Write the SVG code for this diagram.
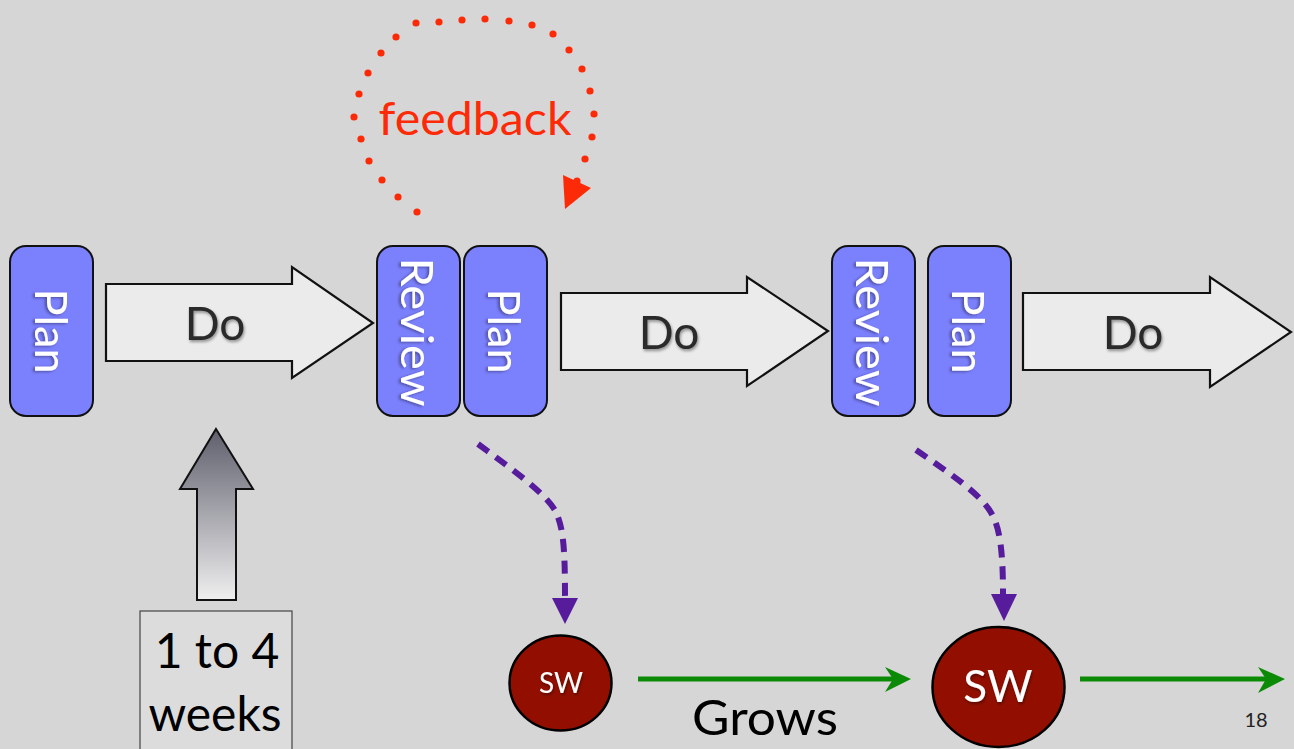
<svg xmlns="http://www.w3.org/2000/svg" width="1294" height="749" viewBox="0 0 1294 749">
<style>
.bg{fill:#d6d6d6}
.box{fill:#7b80fd;stroke:#111;stroke-width:2}
.vt{font-family:Lato,"Open Sans","DejaVu Sans",sans-serif;font-size:45px;fill:#fff;text-anchor:middle}
.doar{fill:#ebebeb;stroke:#111;stroke-width:2.2;stroke-linejoin:miter}
.dot{font-family:Lato,"Open Sans","DejaVu Sans",sans-serif;font-size:46px;fill:#2b2b2b;text-anchor:middle}
.fb{fill:#fd2a08}
.dash{fill:none;stroke:#561c9c;stroke-width:6;stroke-dasharray:13 9}
.ph{fill:#561c9c}
.grn{stroke:#0b8b05;stroke-width:5;fill:none}
.gh{fill:#0b8b05}
.sw{fill:#920f00;stroke:#000;stroke-width:2.5}
.swt{font-family:Lato,"Open Sans","DejaVu Sans",sans-serif;fill:#fff;text-anchor:middle}
.blk{font-family:Lato,"Open Sans","DejaVu Sans",sans-serif;fill:#000;text-anchor:middle}
</style>
<defs>
<linearGradient id="upg" x1="0" y1="0" x2="0" y2="1">
<stop offset="0" stop-color="#5f5f6d"/>
<stop offset="1" stop-color="#efefef"/>
</linearGradient>
<filter id="sh" x="-20%" y="-20%" width="140%" height="140%">
<feGaussianBlur in="SourceAlpha" stdDeviation="1.5"/>
<feOffset dx="1" dy="2" result="b"/>
<feComponentTransfer><feFuncA type="linear" slope="0.4"/></feComponentTransfer>
<feMerge><feMergeNode/><feMergeNode in="SourceGraphic"/></feMerge>
</filter>
</defs>
<rect class="bg" x="0" y="0" width="1294" height="749"/>

<g id="plan1">
<rect class="box" x="10" y="246" width="83" height="170" rx="16"/>
<text class="vt" filter="url(#sh)" transform="translate(35,331) rotate(90)">Plan</text>
</g>
<g id="do1">
<path class="doar" d="M106,284 H292 V267 L373,323 L292,378 V361 H106 Z"/>
<text class="dot" filter="url(#sh)" x="215" y="340">Do</text>
</g>
<g id="review1">
<rect class="box" x="377" y="246" width="83" height="170" rx="16"/>
<text class="vt" filter="url(#sh)" transform="translate(401,332) rotate(90)" textLength="149" lengthAdjust="spacingAndGlyphs">Review</text>
</g>
<g id="plan2">
<rect class="box" x="464" y="246" width="83" height="170" rx="16"/>
<text class="vt" filter="url(#sh)" transform="translate(488,331) rotate(90)">Plan</text>
</g>
<g id="do2">
<path class="doar" d="M561,293 H747 V277 L828,331 L747,386 V370 H561 Z"/>
<text class="dot" filter="url(#sh)" x="669" y="349">Do</text>
</g>
<g id="review2">
<rect class="box" x="832" y="246" width="83" height="170" rx="16"/>
<text class="vt" filter="url(#sh)" transform="translate(856,332) rotate(90)" textLength="149" lengthAdjust="spacingAndGlyphs">Review</text>
</g>
<g id="plan3">
<rect class="box" x="928" y="246" width="83" height="170" rx="16"/>
<text class="vt" filter="url(#sh)" transform="translate(952,331) rotate(90)">Plan</text>
</g>
<g id="do3">
<path class="doar" d="M1023,293 H1210 V277 L1291,332 L1210,387 V370 H1023 Z"/>
<text class="dot" filter="url(#sh)" x="1133" y="349">Do</text>
</g>

<g id="feedback">
<g class="fb">
<circle cx="417" cy="212" r="3.6"/><circle cx="398" cy="197" r="3.6"/><circle cx="382" cy="180" r="3.6"/>
<circle cx="369" cy="161" r="3.6"/><circle cx="361" cy="139" r="3.6"/><circle cx="354" cy="117" r="3.6"/>
<circle cx="359" cy="94" r="3.6"/><circle cx="368" cy="73" r="3.6"/><circle cx="381" cy="53" r="3.6"/>
<circle cx="396" cy="37" r="3.6"/><circle cx="416" cy="23" r="3.6"/><circle cx="439" cy="22" r="3.6"/>
<circle cx="462" cy="20" r="3.6"/><circle cx="485" cy="19" r="3.6"/><circle cx="509" cy="21" r="3.6"/>
<circle cx="532" cy="25" r="3.6"/><circle cx="553" cy="34" r="3.6"/><circle cx="569" cy="50" r="3.6"/>
<circle cx="582" cy="69" r="3.6"/><circle cx="590" cy="91" r="3.6"/><circle cx="594" cy="114" r="3.6"/>
<circle cx="592" cy="137" r="3.6"/><circle cx="585" cy="159" r="3.6"/><circle cx="577" cy="181" r="3.6"/>
<path d="M563,175 L591,188 L565,209 Z"/>
</g>
<text x="475" y="135" font-family="Lato,'Open Sans','DejaVu Sans',sans-serif" font-size="47" fill="#fd2a08" text-anchor="middle" textLength="193" lengthAdjust="spacingAndGlyphs">feedback</text>
</g>

<g id="duration">
<path d="M216,429 L253,489 H236 V600 H197 V489 H180 Z" fill="url(#upg)" stroke="#111" stroke-width="2"/>
<rect x="140" y="611" width="152" height="150" fill="#dcdcdc" stroke="#444" stroke-width="1.2"/>
<text class="blk" x="217" y="668" font-size="48">1 to 4</text>
<text class="blk" x="215" y="731" font-size="48">weeks</text>
</g>

<g id="sw1">
<ellipse class="sw" cx="560.5" cy="683" rx="51" ry="47.5"/>
<text class="swt" filter="url(#sh)" x="561" y="693" font-size="28">SW</text>
</g>
<g id="sw2">
<ellipse class="sw" cx="998.5" cy="687" rx="66" ry="60"/>
<text class="swt" filter="url(#sh)" x="998" y="702" font-size="44">SW</text>
</g>

<g id="connectors">
<path class="dash" d="M478,444 C510,468 545,492 556,512 C563,528 565,545 565,598"/>
<path class="ph" d="M552,598 H578 L565,624 Z"/>
<path class="dash" d="M916,450 C945,470 975,490 988,508 C998,522 1003,540 1003,594"/>
<path class="ph" d="M991,594 H1017 L1004,621 Z"/>
<path class="grn" d="M638,679 H897"/>
<path class="gh" d="M911,679 L885,667 L893,679 L885,692 Z"/>
<path class="grn" d="M1080,679 H1272"/>
<path class="gh" d="M1285,679 L1258,667 L1266,679 L1258,693 Z"/>
</g>
<text class="blk" x="765" y="735" font-size="48" textLength="146" lengthAdjust="spacingAndGlyphs">Grows</text>
<text x="1256" y="727" font-family="Lato,'Open Sans','DejaVu Sans',sans-serif" font-size="20" fill="#222" text-anchor="middle">18</text>
</svg>
